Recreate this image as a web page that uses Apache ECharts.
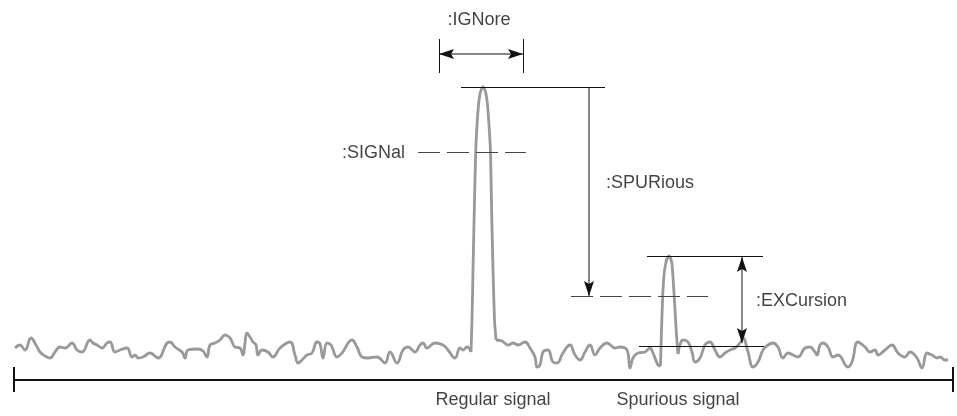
<!DOCTYPE html>
<html>
<head>
<meta charset="utf-8">
<script src="https://cdn.jsdelivr.net/npm/echarts@6/dist/echarts.min.js"></script>
<style>
html,body{margin:0;padding:0;background:#fff;}
#chart{width:957px;height:416px;}
</style>
</head>
<body>
<div id="chart"></div>
<script>
// Noise trace left of the regular signal (x, y in diagram units)
const noiseLeft = [[15,348],[20,345],[25,350],[31,338],[36,345],[40,352],[45,356],[50,358],[55,352],[60,347],[65,348],[72,343],[77,350],[82,352],[90,340],[93,343],[97,345],[102,348],[107,343],[110,342],[115,352],[120,350],[127,348],[132,357],[135,355],[138,358],[143,357],[150,353],[158,358],[167,343],[170,342],[175,347],[182,352],[185,358],[188,350],[198,349],[203,351],[207,357],[210,345],[215,343],[220,340],[225,335],[230,338],[235,347],[240,348],[243,355],[245,343],[247,333],[250,337],[253,342],[256,345],[258,355],[262,350],[268,352],[273,357],[280,348],[290,342],[295,355],[298,363],[302,360],[307,355],[312,353],[317,342],[320,344],[323,358],[327,343],[331,345],[337,357],[342,353],[352,340],[357,347],[362,357],[368,358],[377,357],[385,363],[390,352],[397,363],[403,350],[408,347],[415,352],[420,345],[423,343],[427,348],[435,343],[443,345],[448,350],[455,358],[460,348],[463,350],[467,347],[471,352]];
// Regular signal peak
const regularPeak = [[471,352],[472,320],[473,270],[474.3,210],[475.7,152],[477,125],[478.5,105],[480,94],[481.5,89],[483,87],[484.5,89],[486,94],[487.5,105],[489,125],[490.5,152],[491.6,210],[493,270],[494.5,320],[496,340]];
// Noise between peaks
const noiseMid = [[496,340],[502,341],[508,345],[513,343],[518,345],[525,342],[530,348],[535,357],[537,367],[540,365],[543,352],[548,350],[553,362],[557,363],[563,353],[570,345],[575,355],[580,360],[585,352],[590,345],[595,355],[600,348],[607,343],[615,348],[620,347],[627,350],[630,368],[633,358],[638,353],[645,352],[650,348],[653,353],[658,365],[660.5,366]];
// Spurious signal peak
const spuriousPeak = [[660.5,366],[661.5,330],[662.7,296],[664,275],[666,262],[667.5,258],[669,256],[670.5,258],[672,264],[673.5,285],[675,310],[676.5,335],[678,354]];
// Noise right of the spurious peak
const noiseRight = [[678,354],[680,345],[683,340],[688,342],[692,352],[695,362],[700,358],[705,345],[710,342],[715,350],[720,357],[725,353],[730,350],[735,348],[740,343],[743,338],[748,352],[753,367],[758,362],[763,350],[768,345],[773,343],[778,347],[783,358],[788,353],[793,355],[798,357],[805,348],[810,347],[815,352],[817,355],[820,345],[823,343],[828,347],[833,357],[838,355],[848,367],[852,362],[858,342],[865,347],[870,352],[875,350],[878,355],[885,350],[892,345],[898,353],[905,357],[910,352],[917,358],[922,368],[927,353],[932,355],[937,358],[940,357],[945,360],[948,360]];

// Annotation segments
const solidSegments = [
  [[461,87],[605,87]],
  [[647,256],[763,256]],
  [[639,346],[764,346]],
  [[439,39],[439,73]],
  [[523,39],[523,73]]
];
const axisSegments = [
  [[14,380],[953,380]],
  [[14,367],[14,392]],
  [[953,367],[953,392]]
];
const dashedSegments = [
  [[418,152],[526,152]],
  [[571,296],[708,296]]
];
// arrows: [x1, y1, x2, y2, headsAtBothEnds]
const arrowSegments = [
  [439,54,523,54,1],
  [742,257,742,343,1],
  [589,87,589,296,0]
];

// Text labels
const labelTexts = [':IGNore', ':SIGNal', ':SPURious', ':EXCursion', 'Regular signal', 'Spurious signal'];
const labelAnchors = [[479,20],[405,153],[606,183],[756,301],[493,400],[678,400]];
const labelSides = ['inside','left','right','right','inside','inside'];

const chart = echarts.init(document.getElementById('chart'), null, {renderer:'canvas'});
const font = "'Liberation Sans', Arial, Helvetica, sans-serif";
const toLines = segs => segs.map(s => ({coords: s}));
const traceStyle = {color:'#999999', width:2.8};
const ink = '#111111';

function head(tip, from, len, half, notch) {
  const dx = tip[0]-from[0], dy = tip[1]-from[1];
  const d = Math.sqrt(dx*dx+dy*dy) || 1;
  const ux = dx/d, uy = dy/d, px = -uy, py = ux;
  const bx = tip[0]-ux*len, by = tip[1]-uy*len;
  const nx = tip[0]-ux*notch, ny = tip[1]-uy*notch;
  return {
    type:'polygon',
    shape:{points:[tip,[bx+px*half,by+py*half],[nx,ny],[bx-px*half,by-py*half]]},
    style:{fill:ink}
  };
}

chart.setOption({
  animation: false,
  backgroundColor: '#ffffff',
  grid: {left:0, right:0, top:0, bottom:0},
  xAxis: {type:'value', min:0, max:957, show:false},
  yAxis: {type:'value', min:0, max:416, inverse:true, show:false},
  series: [
    {type:'line', data: noiseLeft, smooth:0.45, showSymbol:false, symbol:'none', lineStyle:traceStyle, z:2},
    {type:'line', data: regularPeak, smooth:0.2, showSymbol:false, symbol:'none', lineStyle:traceStyle, z:2},
    {type:'line', data: noiseMid, smooth:0.45, showSymbol:false, symbol:'none', lineStyle:traceStyle, z:2},
    {type:'line', data: spuriousPeak, smooth:0.2, showSymbol:false, symbol:'none', lineStyle:traceStyle, z:2},
    {type:'line', data: noiseRight, smooth:0.45, showSymbol:false, symbol:'none', lineStyle:traceStyle, z:2},
    {
      type:'lines', coordinateSystem:'cartesian2d', data: toLines(solidSegments),
      lineStyle:{color:ink, width:1, opacity:1}, symbol:'none', z:3
    },
    {
      type:'lines', coordinateSystem:'cartesian2d', data: toLines(axisSegments),
      lineStyle:{color:ink, width:2, opacity:1}, symbol:'none', z:3
    },
    {
      type:'lines', coordinateSystem:'cartesian2d', data: toLines(dashedSegments),
      lineStyle:{color:'#444', width:1, type:[22,7], opacity:1}, symbol:'none', z:3
    },
    {
      type:'custom', coordinateSystem:'cartesian2d', data: arrowSegments, z:4,
      renderItem: function (params, api) {
        const p1 = api.coord([api.value(0), api.value(1)]);
        const p2 = api.coord([api.value(2), api.value(3)]);
        const both = api.value(4) === 1;
        const children = [
          {type:'line', shape:{x1:p1[0], y1:p1[1], x2:p2[0], y2:p2[1]}, style:{stroke:ink, lineWidth:1}},
          head(p2, p1, 15, 5, 12)
        ];
        if (both) children.push(head(p1, p2, 15, 5, 12));
        return {type:'group', children: children};
      }
    },
    {
      type:'scatter', symbolSize:0, z:5,
      data: labelTexts.map((t,i) => ({
        name:t, value: labelAnchors[i],
        label:{show:true, position: labelSides[i], distance:0, formatter:t,
               fontFamily:font, fontSize:18, color:ink}
      }))
    }
  ]
});
</script>
</body>
</html>
